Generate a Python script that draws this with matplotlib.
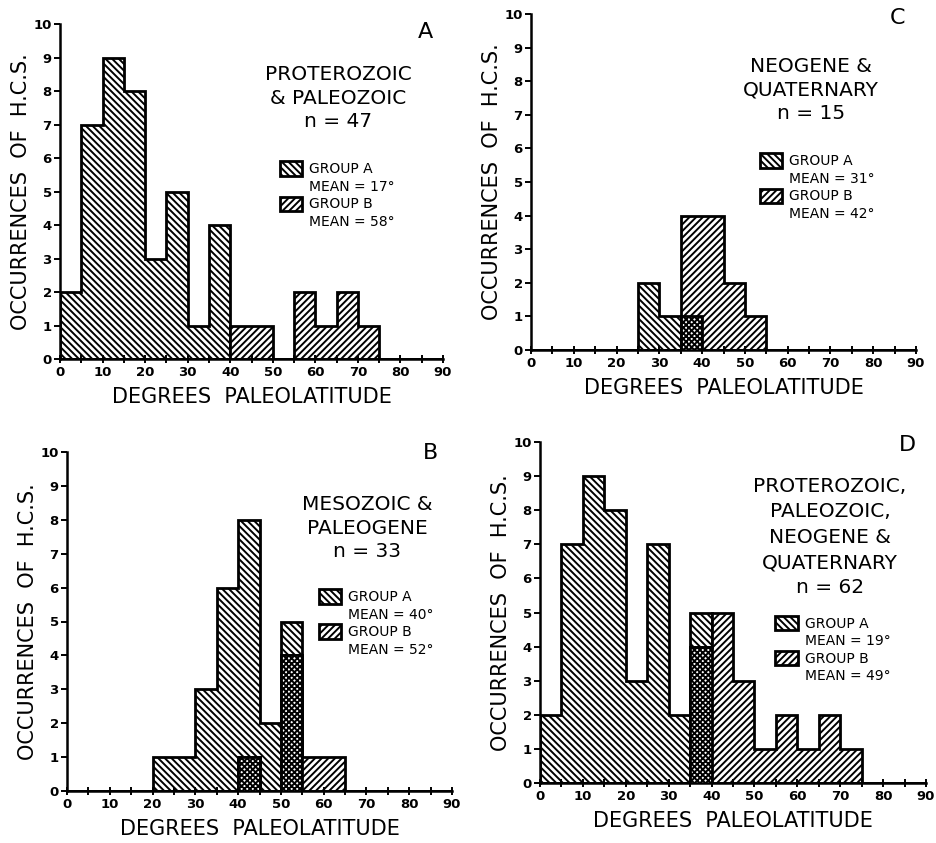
import numpy as np
import matplotlib
matplotlib.use("Agg")
import matplotlib.pyplot as plt
from matplotlib.patches import Patch

plt.rcParams['font.family'] = ['DejaVu Sans']
plt.rcParams['hatch.linewidth'] = 1.4

# 5-degree paleolatitude bins
lat_edges = [0, 5, 10, 15, 20, 25, 30, 35, 40, 45, 50, 55, 60, 65, 70, 75, 80, 85, 90]

# panel A: proterozoic & paleozoic
a_group_a = [2, 7, 9, 8, 3, 5, 1, 4, 0, 0, 0, 0, 0, 0, 0, 0, 0, 0]
a_group_b = [0, 0, 0, 0, 0, 0, 0, 0, 1, 1, 0, 2, 1, 2, 1, 0, 0, 0]
# panel B: mesozoic & paleogene
b_group_a = [0, 0, 0, 0, 1, 1, 3, 6, 8, 2, 5, 0, 0, 0, 0, 0, 0, 0]
b_group_b = [0, 0, 0, 0, 0, 0, 0, 0, 1, 0, 4, 1, 1, 0, 0, 0, 0, 0]
# panel C: neogene & quaternary
c_group_a = [0, 0, 0, 0, 0, 2, 1, 1, 0, 0, 0, 0, 0, 0, 0, 0, 0, 0]
c_group_b = [0, 0, 0, 0, 0, 0, 0, 4, 4, 2, 1, 0, 0, 0, 0, 0, 0, 0]
# panel D: all combined
d_group_a = [2, 7, 9, 8, 3, 7, 2, 5, 0, 0, 0, 0, 0, 0, 0, 0, 0, 0]
d_group_b = [0, 0, 0, 0, 0, 0, 0, 4, 5, 3, 1, 2, 1, 2, 1, 0, 0, 0]

panel_letters = ['A', 'B', 'C', 'D']
panel_titles = ['PROTEROZOIC\n& PALEOZOIC\nn = 47',
                'MESOZOIC &\nPALEOGENE\nn = 33',
                'NEOGENE &\nQUATERNARY\nn = 15',
                'PROTEROZOIC,\nPALEOZOIC,\nNEOGENE &\nQUATERNARY\nn = 62']
means_a = [17, 40, 31, 19]
means_b = [58, 52, 42, 49]

HATCH_A = '\\' * 5
HATCH_B = '/' * 5
HATCH_AB = 'x' * 6

W, H = 936, 843
fig = plt.figure(figsize=(W / 100, H / 100), dpi=100)
fig.patch.set_facecolor('white')


def px_axes(left, right, top, bottom):
	return fig.add_axes([left / W, 1 - bottom / H, (right - left) / W, (bottom - top) / H])


# axes rects in pixels (left, right, top, bottom)
rects = [(60, 443, 24, 359), (67, 452, 452, 791), (531, 916, 14, 350), (540, 926, 442, 783)]
title_pos = [(0.726, 0.877), (0.78, 0.873), (0.727, 0.872), (0.751, 0.897)]
title_spacing = [1.3, 1.3, 1.3, 1.42]
legend_pos = [(0.575, 0.59), (0.655, 0.595), (0.595, 0.585), (0.61, 0.49)]
letter_pos = [(0.953, 0.976), (0.943, 0.997), (0.953, 0.988), (0.953, 0.991)]

data = [(a_group_a, a_group_b), (b_group_a, b_group_b),
        (c_group_a, c_group_b), (d_group_a, d_group_b)]

for i in range(4):
	ax = px_axes(*rects[i])
	ga, gb = data[i]
	ga = np.array(ga)
	gb = np.array(gb)
	both = np.minimum(ga, gb)

	ax.stairs(ga, lat_edges, fill=True, facecolor='white', edgecolor='black',
	          hatch=HATCH_A, linewidth=2)
	ax.stairs(gb, lat_edges, fill=True, facecolor='white', edgecolor='black',
	          hatch=HATCH_B, linewidth=2)
	ax.stairs(both, lat_edges, fill=True, facecolor='white', edgecolor='black',
	          hatch=HATCH_AB, linewidth=2)

	ax.set_xlim(0, 90)
	ax.set_ylim(0, 10)
	ax.spines['top'].set_visible(False)
	ax.spines['right'].set_visible(False)
	ax.spines['left'].set_linewidth(1.8)
	ax.spines['bottom'].set_linewidth(1.8)
	ax.set_xticks(range(0, 91, 10))
	ax.set_xticks(range(5, 90, 10), minor=True)
	ax.set_yticks(range(0, 11))
	ax.tick_params(axis='x', which='both', direction='inout', length=6, width=1.4,
	               labelsize=9.5, pad=2)
	ax.tick_params(axis='y', direction='out', length=4, width=1.4, labelsize=9.5, pad=2)
	for lab in ax.get_xticklabels() + ax.get_yticklabels():
		lab.set_fontweight('bold')

	ax.set_xlabel('DEGREES  PALEOLATITUDE', fontsize=15, labelpad=6)
	ax.set_ylabel('OCCURRENCES  OF  H.C.S.', fontsize=15, labelpad=2)

	ax.text(title_pos[i][0], title_pos[i][1], panel_titles[i], transform=ax.transAxes,
	        ha='center', va='top', fontsize=14.5, linespacing=title_spacing[i])
	ax.text(letter_pos[i][0], letter_pos[i][1], panel_letters[i], transform=ax.transAxes,
	        ha='center', va='center', fontsize=16)

	blank = Patch(facecolor='none', edgecolor='none')
	handles = [Patch(facecolor='white', edgecolor='black', hatch=HATCH_A, linewidth=2),
	           blank,
	           Patch(facecolor='white', edgecolor='black', hatch=HATCH_B, linewidth=2),
	           blank]
	labels = ['GROUP A', f'MEAN = {means_a[i]}°', 'GROUP B', f'MEAN = {means_b[i]}°']
	ax.legend(handles, labels, loc='upper left', bbox_to_anchor=legend_pos[i],
	          frameon=False, fontsize=10, handlelength=1.6, handleheight=1.2,
	          handletextpad=0.5, labelspacing=0.2, borderpad=0, borderaxespad=0)

fig.savefig('out.png', dpi=100, facecolor='white')
